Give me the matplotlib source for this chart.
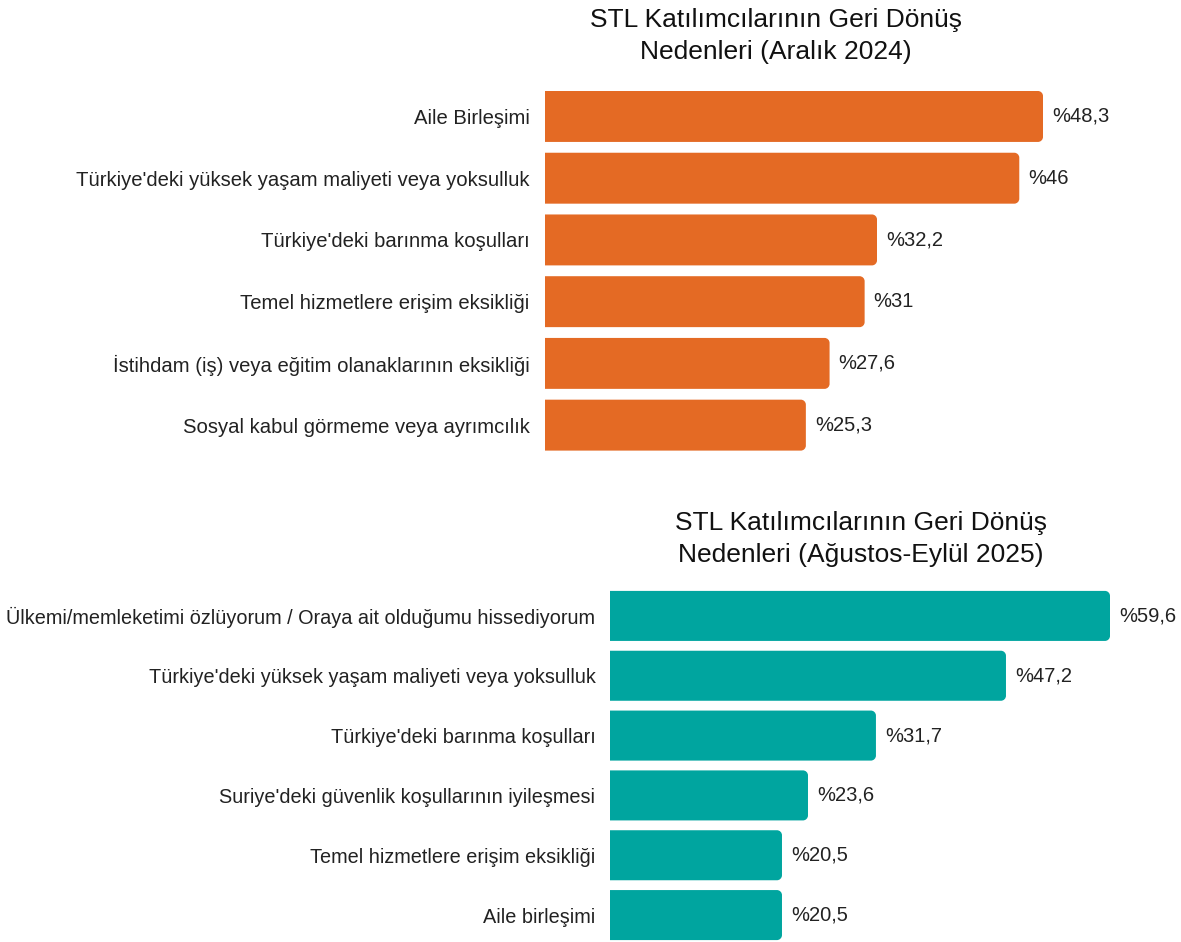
import matplotlib
matplotlib.use("Agg")
import matplotlib.pyplot as plt
from matplotlib.patches import PathPatch
from matplotlib.path import Path

plt.rcParams['font.family'] = ['Liberation Sans', 'DejaVu Sans']

title_top = "STL Katılımcılarının Geri Dönüş\nNedenleri (Aralık 2024)"
cats_top = ["Aile Birleşimi",
            "Türkiye'deki yüksek yaşam maliyeti veya yoksulluk",
            "Türkiye'deki barınma koşulları",
            "Temel hizmetlere erişim eksikliği",
            "İstihdam (iş) veya eğitim olanaklarının eksikliği",
            "Sosyal kabul görmeme veya ayrımcılık"]
vals_top = [48.3, 46, 32.2, 31, 27.6, 25.3]
labels_top = ["%48,3", "%46", "%32,2", "%31", "%27,6", "%25,3"]

title_bot = "STL Katılımcılarının Geri Dönüş\nNedenleri (Ağustos-Eylül 2025)"
cats_bot = ["Ülkemi/memleketimi özlüyorum / Oraya ait olduğumu hissediyorum",
            "Türkiye'deki yüksek yaşam maliyeti veya yoksulluk",
            "Türkiye'deki barınma koşulları",
            "Suriye'deki güvenlik koşullarının iyileşmesi",
            "Temel hizmetlere erişim eksikliği",
            "Aile birleşimi"]
vals_bot = [59.6, 47.2, 31.7, 23.6, 20.5, 20.5]
labels_bot = ["%59,6", "%47,2", "%31,7", "%23,6", "%20,5", "%20,5"]

W, H = 1181, 942
fig = plt.figure(figsize=(W / 100, H / 100), dpi=100)


def px_axes(x0, x1, y0, y1):
    return fig.add_axes([x0 / W, 1 - y1 / H, (x1 - x0) / W, (y1 - y0) / H])


def rounded_right_path(x, y0, y1, w, rx, ry):
    # square left corners, rounded right corners (y0 < y1 in data)
    k = 0.5523
    xr = x + w
    verts = [(x, y0), (xr - rx, y0),
             (xr - rx + k * rx, y0), (xr, y0 + ry - k * ry), (xr, y0 + ry),
             (xr, y1 - ry),
             (xr, y1 - ry + k * ry), (xr - rx + k * rx, y1), (xr - rx, y1),
             (x, y1), (x, y0)]
    codes = [Path.MOVETO, Path.LINETO,
             Path.CURVE4, Path.CURVE4, Path.CURVE4,
             Path.LINETO,
             Path.CURVE4, Path.CURVE4, Path.CURVE4,
             Path.LINETO, Path.CLOSEPOLY]
    return Path(verts, codes)


def draw(ax, cats, vals, labels, color, height, ylim, radius_px, title,
         title_x, title_y, label_fs, pad):
    n = len(cats)
    ys = list(range(n))
    ax.set_xlim(0, max(vals))
    ax.set_ylim(*ylim)
    bars = ax.barh(ys, vals, height=height, color=color)
    fig.canvas.draw()
    bb = ax.get_window_extent()
    xu = (ax.get_xlim()[1] - ax.get_xlim()[0]) / bb.width
    yu = abs(ax.get_ylim()[1] - ax.get_ylim()[0]) / bb.height
    rx, ry = radius_px * xu, radius_px * yu
    for b in bars:
        x, y, w, h = b.get_x(), b.get_y(), b.get_width(), b.get_height()
        b.set_visible(False)
        path = rounded_right_path(x, y, y + h, w, rx, ry)
        ax.add_patch(PathPatch(path, facecolor=color, edgecolor='none',
                               clip_on=False))
    for y, v, lab in zip(ys, vals, labels):
        ax.annotate(lab, (v, y), xytext=(6.5, 0), textcoords='offset points',
                    ha='left', va='center', fontsize=14.5, color='#222222',
                    annotation_clip=False)
    ax.set_yticks(ys)
    ax.set_yticklabels(cats, fontsize=label_fs, color='#222222')
    ax.tick_params(axis='y', length=0, pad=pad)
    ax.set_xticks([])
    for s in ax.spines.values():
        s.set_visible(False)
    fig.text(title_x / W, 1 - title_y / H, title, ha='center', va='top',
             fontsize=19, color='#111111', linespacing=1.42)


ax1 = px_axes(545, 1043, 85.6, 456)
draw(ax1, cats_top, vals_top, labels_top, '#E46A24', 0.825, (5.5, -0.5), 5,
     title_top, 776, 8, 14.6, 11)

ax2 = px_axes(610, 1110, 586, 942)
draw(ax2, cats_bot, vals_bot, labels_bot, '#00A59F', 0.836, (5.45, -0.5), 5,
     title_bot, 861, 511, 14.3, 10.5)

fig.savefig("out.png", dpi=100)
